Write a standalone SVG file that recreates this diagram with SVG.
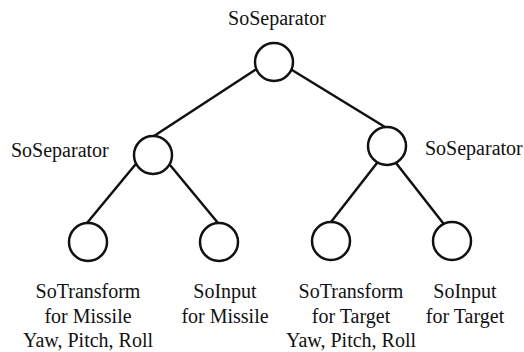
<svg xmlns="http://www.w3.org/2000/svg" width="524" height="352" viewBox="0 0 524 352" font-family="Liberation Serif">
  <style>
    .node circle { fill: #ffffff; stroke: #111111; stroke-width: 2.5; }
    .edges line { stroke: #111111; stroke-width: 2.5; stroke-linecap: round; }
    .lbl { font-size: 20px; fill: #111111; }
    .c { text-anchor: middle; }
  </style>
  <rect width="524" height="352" fill="#ffffff"/>

  <!-- scene graph edges -->
  <g id="connectors" class="edges">
    <line x1="255" y1="70" x2="154" y2="136"/>
    <line x1="292" y1="70" x2="385" y2="127"/>
    <line x1="135" y1="165" x2="87" y2="223"/>
    <line x1="170" y1="165" x2="218" y2="223"/>
    <line x1="377" y1="163" x2="331" y2="222"/>
    <line x1="396" y1="163" x2="443" y2="223"/>
  </g>

  <!-- root separator -->
  <g id="root" class="node">
    <circle cx="274" cy="62" r="19"/>
    <text class="lbl c" x="277" y="25">SoSeparator</text>
  </g>

  <!-- missile branch -->
  <g id="sep-missile" class="node">
    <circle cx="153" cy="155" r="19"/>
    <text class="lbl" x="11" y="157">SoSeparator</text>
  </g>
  <g id="transform-missile" class="node">
    <circle cx="88" cy="242" r="19"/>
    <text class="lbl c" x="88" y="298">SoTransform</text>
    <text class="lbl c" x="88" y="323">for Missile</text>
    <text class="lbl c" x="88" y="347">Yaw, Pitch, Roll</text>
  </g>
  <g id="input-missile" class="node">
    <circle cx="219" cy="242" r="19"/>
    <text class="lbl c" x="225" y="298">SoInput</text>
    <text class="lbl c" x="225" y="323">for Missile</text>
  </g>

  <!-- target branch -->
  <g id="sep-target" class="node">
    <circle cx="387" cy="146" r="19"/>
    <text class="lbl" x="425" y="155">SoSeparator</text>
  </g>
  <g id="transform-target" class="node">
    <circle cx="331" cy="241" r="19"/>
    <text class="lbl c" x="351" y="298">SoTransform</text>
    <text class="lbl c" x="351" y="323">for Target</text>
    <text class="lbl c" x="351" y="347">Yaw, Pitch, Roll</text>
  </g>
  <g id="input-target" class="node">
    <circle cx="452" cy="241" r="19"/>
    <text class="lbl c" x="465" y="298">SoInput</text>
    <text class="lbl c" x="465" y="323">for Target</text>
  </g>
</svg>
